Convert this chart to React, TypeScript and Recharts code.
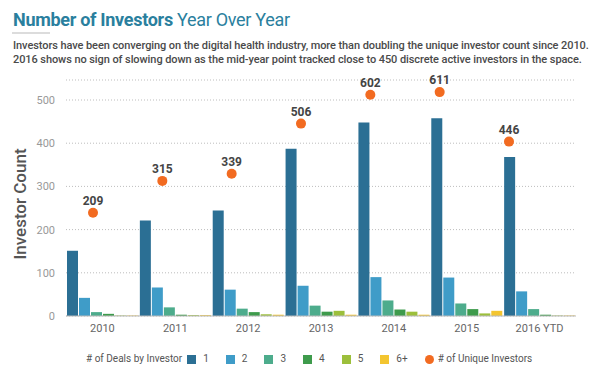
import { ComposedChart, Bar, Line, LabelList, XAxis, YAxis, CartesianGrid } from 'recharts'

const years = ['2010', '2011', '2012', '2013', '2014', '2015', '2016 YTD']
const deals1 = [151, 221, 244, 387, 448, 458, 368]
const deals2 = [42, 66, 61, 70, 90, 89, 57]
const deals3 = [9, 20, 17, 24, 36, 29, 16]
const deals4 = [5, 3, 9, 10, 15, 16, 3]
const deals5 = [1, 2, 4, 12, 10, 6, 1]
const deals6 = [1, 2, 3, 3, 3, 12, 1]
const uniqueInvestors = [209, 315, 339, 506, 602, 611, 446]
const countTicks = [0, 100, 200, 300, 400, 500]

const dealLabels = ['1', '2', '3', '4', '5', '6+']
const dealColors = ['#2b6f94', '#3f9cc8', '#4dac8c', '#3e9b4c', '#9cbf3b', '#f3c530']
const dotColor = '#f26b21'

const data = years.map((year, i) => ({
  year,
  d1: deals1[i],
  d2: deals2[i],
  d3: deals3[i],
  d4: deals4[i],
  d5: deals5[i],
  d6: deals6[i],
  unique: uniqueInvestors[i],
}))

const font = 'Roboto, "Open Sans", sans-serif'

function LegendRow() {
  return (
    <div
      style={{
        position: 'absolute',
        left: 86,
        top: 353,
        display: 'flex',
        alignItems: 'center',
        fontSize: 10,
        color: '#555',
        fontFamily: font,
        lineHeight: '12px',
        whiteSpace: 'nowrap',
      }}
    >
      <span style={{ marginRight: 5 }}># of Deals by Investor</span>
      {dealLabels.map((label, i) => (
        <span key={label} style={{ display: 'flex', alignItems: 'center', marginRight: 17 }}>
          <span style={{ width: 9, height: 9, background: dealColors[i], marginRight: 7, display: 'inline-block' }} />
          <span>{label}</span>
        </span>
      ))}
      <span style={{ width: 9, height: 9, borderRadius: '50%', background: dotColor, marginRight: 4, display: 'inline-block' }} />
      <span>{'# of Unique Investors'}</span>
    </div>
  )
}

export default function App() {
  return (
    <div style={{ position: 'absolute', left: 0, top: 0, width: 600, height: 373, background: '#fff', fontFamily: font }}>
      <div
        style={{
          position: 'absolute',
          left: 13,
          top: 9,
          fontSize: 18,
          letterSpacing: -0.3,
          lineHeight: '22px',
          color: '#2a7f9e',
          whiteSpace: 'nowrap',
        }}
      >
        <span style={{ fontWeight: 700 }}>Number of Investors</span> <span>Year Over Year</span>
      </div>
      <div style={{ position: 'absolute', left: 12, top: 32, width: 38, height: 2, background: '#dcdcdc' }} />
      <div
        style={{
          position: 'absolute',
          left: 13,
          top: 39,
          fontSize: 11,
          letterSpacing: -0.08,
          lineHeight: '14px',
          color: '#4a4a4a',
          fontWeight: 500,
          whiteSpace: 'nowrap',
        }}
      >
        <div>Investors have been converging on the digital health industry, more than doubling the unique investor count since 2010.</div>
        <div>2016 shows no sign of slowing down as the mid-year point tracked close to 450 discrete active investors in the space.</div>
      </div>
      <div style={{ position: 'absolute', left: 0, top: 0 }}>
        <ComposedChart
          width={600}
          height={373}
          data={data}
          margin={{ top: 80, right: 24, bottom: 27, left: 0 }}
          barGap={1}
          barCategoryGap={1}
        >
          <CartesianGrid vertical={false} strokeDasharray="1 2" stroke="#bdbdbd" />
          <XAxis
            dataKey="year"
            tickLine={false}
            axisLine={{ stroke: '#bbb' }}
            tick={{ fontSize: 11, fill: '#666', fontFamily: font }}
          />
          <XAxis xAxisId="dots" dataKey="year" scale="point" padding={{ left: 27, right: 67 }} hide />
          <YAxis
            width={66}
            domain={[0, 546.3]}
            ticks={countTicks}
            axisLine={false}
            tickLine={false}
            tickMargin={5}
            tick={{ fontSize: 11, fill: '#999', fontFamily: font }}
            label={{
              value: 'Investor Count',
              angle: -90,
              position: 'insideLeft',
              offset: 20,
              dy: 6,
              style: { textAnchor: 'middle', fontSize: 17, fill: '#555', fontWeight: 500, fontFamily: font },
            }}
          />
          <YAxis yAxisId="dots" domain={[-135.3, 651.3]} hide />
          {['d1', 'd2', 'd3', 'd4', 'd5', 'd6'].map((key, i) => (
            <Bar key={key} dataKey={key} fill={dealColors[i]} isAnimationActive={false} />
          ))}
          <Line
            xAxisId="dots"
            yAxisId="dots"
            dataKey="unique"
            stroke="none"
            dot={{ r: 5, fill: dotColor, stroke: 'none' }}
            activeDot={false}
            isAnimationActive={false}
          >
            <LabelList dataKey="unique" position="top" offset={8} fill="#444" fontSize={12} fontWeight={700} fontFamily={font} />
          </Line>
        </ComposedChart>
      </div>
      <LegendRow />
    </div>
  )
}
